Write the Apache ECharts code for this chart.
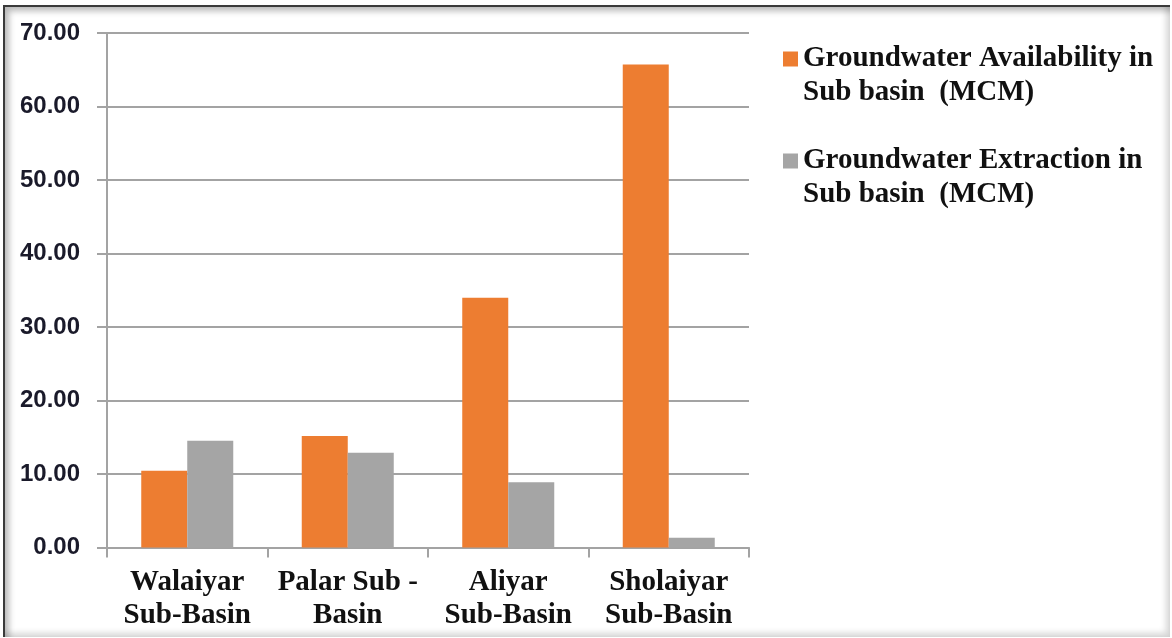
<!DOCTYPE html>
<html>
<head>
<meta charset="utf-8">
<title>Groundwater Availability and Extraction by Sub Basin</title>
<script src="https://cdn.jsdelivr.net/npm/echarts@6/dist/echarts.min.js"></script>
<style>
  html, body { margin: 0; padding: 0; background: #fff; }
  #wrap { position: relative; width: 1172px; height: 638px; overflow: hidden; }
  #chart { position: absolute; left: 0; top: 0; width: 1172px; height: 638px; }
  #frame {
    position: absolute; left: 3px; top: 5px; width: 1165px; height: 630px;
    border-top: 2px solid #3a3a3a; border-left: 2px solid #3a3a3a;
    box-shadow: inset 4px 4px 6px rgba(0,0,0,0.28), inset -4px -4px 6px rgba(0,0,0,0.16);
    pointer-events: none;
  }
</style>
</head>
<body>
<div id="wrap">
  <div id="chart"></div>
  <div id="frame"></div>
</div>
<script>
// Sub basins along the x axis
var categories = ['Walaiyar\nSub-Basin', 'Palar Sub -\nBasin', 'Aliyar\nSub-Basin', 'Sholaiyar\nSub-Basin'];

// Values in million cubic metres
var availability = [10.45, 15.17, 33.99, 65.70];
var extraction = [14.53, 12.90, 8.87, 1.33];

var seriesNames = [
  'Groundwater Availability in\nSub basin  (MCM)',
  'Groundwater Extraction in\nSub basin  (MCM)'
];

var chart = echarts.init(document.getElementById('chart'), null, { renderer: 'canvas' });

var gridColor = '#a3a3a3';

chart.setOption({
  backgroundColor: '#ffffff',
  animation: false,
  grid: { left: 107, top: 33, width: 642, height: 514.5, containLabel: false },
  legend: {
    orient: 'vertical',
    left: 783,
    top: 8,
    padding: 0,
    itemGap: 0,
    itemWidth: 15,
    itemHeight: 15,
    icon: 'rect',
    selectedMode: false,
    // a leading empty line keeps the first text line level with the swatch
    formatter: function (name) { return '\n' + name; },
    textStyle: {
      fontFamily: '"Liberation Serif", "Times New Roman", serif',
      fontWeight: 'bold',
      fontSize: 29,
      lineHeight: 34,
      color: '#111111'
    },
    data: seriesNames
  },
  xAxis: {
    type: 'category',
    data: categories,
    boundaryGap: true,
    axisLine: { show: true, lineStyle: { color: gridColor, width: 2 } },
    axisTick: { show: true, length: 10, lineStyle: { color: gridColor, width: 2 } },
    axisLabel: {
      margin: 19,
      interval: 0,
      fontFamily: '"Liberation Serif", "Times New Roman", serif',
      fontWeight: 'bold',
      fontSize: 29,
      lineHeight: 33,
      color: '#111111'
    }
  },
  yAxis: {
    type: 'value',
    min: 0,
    max: 70,
    interval: 10,
    axisLine: { show: true, lineStyle: { color: gridColor, width: 2 } },
    axisTick: { show: true, length: 10, inside: false, lineStyle: { color: gridColor, width: 2 } },
    splitLine: { show: true, lineStyle: { color: gridColor, width: 2 } },
    axisLabel: {
      margin: 27,
      fontFamily: '"Liberation Sans", Arial, sans-serif',
      fontWeight: 'bold',
      fontSize: 24,
      color: '#1a1a2a',
      formatter: function (v) { return v.toFixed(2); }
    }
  },
  series: [
    {
      name: seriesNames[0],
      type: 'bar',
      data: availability,
      barWidth: 46,
      barGap: '0%',
      itemStyle: { color: '#ED7D31' }
    },
    {
      name: seriesNames[1],
      type: 'bar',
      data: extraction,
      barWidth: 46,
      barGap: '0%',
      itemStyle: { color: '#A5A5A5' }
    }
  ]
});
</script>
</body>
</html>
